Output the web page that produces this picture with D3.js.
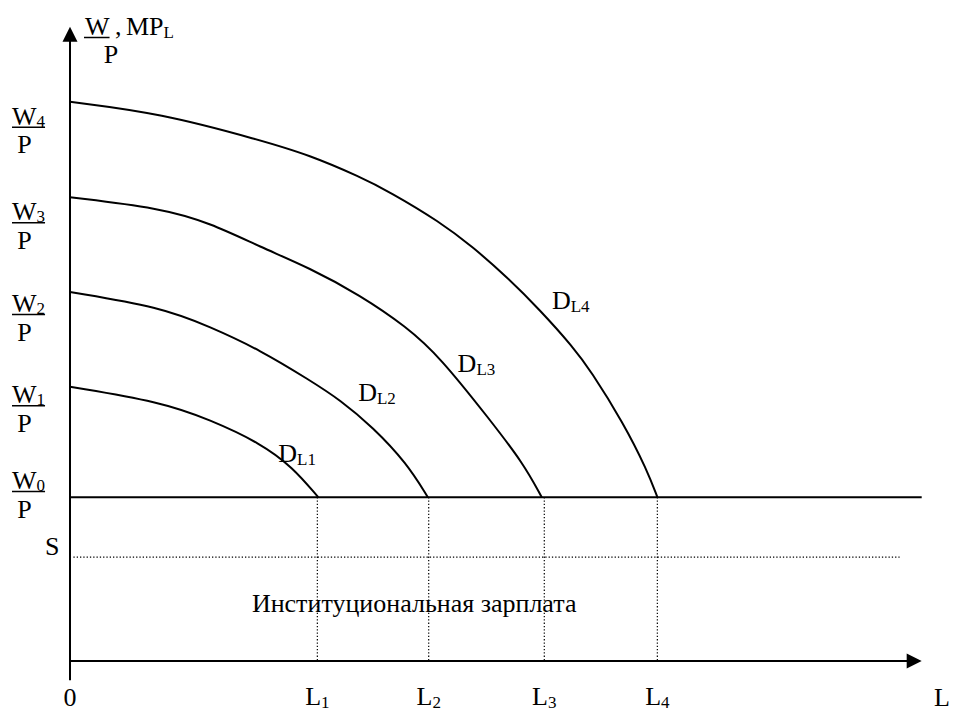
<!DOCTYPE html>
<html><head><meta charset="utf-8">
<script src="https://cdn.jsdelivr.net/npm/d3@7"></script>
<style>
body{margin:0;background:#fff}
text{font-family:"Liberation Serif","Times New Roman",serif;fill:#000}
</style>
</head><body>
<svg id="c" width="954" height="711"></svg>
<script>
// ---- data (abstract units: L on x, W/P on y) ----
const curveNames = ["L1", "L2", "L3", "L4"];
const dL1 = [[0,45.7],[10.6,43.2],[16.5,40.2],[22.4,36.3],[26.2,32.3],[29.2,27.3]];
const dL2 = [[0,61.5],[10.6,59.0],[16.5,55.7],[22.4,51.8],[28.2,46.8],[31.8,43.5],[35.6,39.0],[39.6,33.0],[42.1,27.3]];
const dL3 = [[0,77.3],[10.6,75.5],[16.5,73.0],[22.4,69.0],[28.2,65.5],[34.1,61.0],[39.6,55.7],[43.5,50.7],[49.4,40.2],[53.3,33.0],[55.5,27.3]];
const dL4 = [[0,93.2],[10.6,91.3],[22.4,86.8],[28.2,84.3],[34.1,80.7],[37.6,78.2],[43.5,73.2],[47.4,69.0],[51.4,64.0],[55.3,58.5],[59.2,52.3],[61.2,48.5],[65.1,39.7],[67.9,31.8],[69.1,27.3]];
const curves = [dL1, dL2, dL3, dL4];
const w0Level = 27.3;          // W0/P institutional wage
const sLevel = 17.3;           // S
const lTicks = [29.1, 42.2, 55.8, 69.1];   // L1..L4
const lTickLabels = ["1", "2", "3", "4"];
const wTickSubs = ["0", "1", "2", "3", "4"];
const wTickPos = [28.0, 42.3, 57.5, 72.8, 88.7];   // centres of W_i/P labels
const curveLabelPos = [[24.5,33.2],[33.9,43.3],[45.6,48.2],[56.7,58.7]];
const noteText = "Институциональная зарплата";
const notePos = [21.4, 8.2];

// ---- scales ----
const svg = d3.select("#c");
const x = d3.scaleLinear().domain([0, 100]).range([70, 920]);
const y = d3.scaleLinear().domain([0, 100]).range([661, 61]);
const FS = 26, SFS = 17;

// axes
svg.append("line").attr("x1", x(0)).attr("x2", x(100.2) - 14).attr("y1", y(0)).attr("y2", y(0))
  .attr("stroke", "#000").attr("stroke-width", 2);
svg.append("path").attr("d", `M${x(100.2)},${y(0)} L${x(100.2)-15},${y(0)-7.5} L${x(100.2)-15},${y(0)+7.5} Z`).attr("fill", "#000");
svg.append("line").attr("x1", x(0)).attr("x2", x(0)).attr("y1", y(-3.2)).attr("y2", y(105.7) + 14)
  .attr("stroke", "#000").attr("stroke-width", 2);
svg.append("path").attr("d", `M${x(0)},${y(105.7)} L${x(0)-7.5},${y(105.7)+15} L${x(0)+7.5},${y(105.7)+15} Z`).attr("fill", "#000");

// W0 line
svg.append("line").attr("x1", x(0)).attr("x2", x(100.2)).attr("y1", y(w0Level)).attr("y2", y(w0Level))
  .attr("stroke", "#000").attr("stroke-width", 2);
// S dotted
svg.append("line").attr("x1", x(0.4)).attr("x2", x(97.6)).attr("y1", y(sLevel)).attr("y2", y(sLevel))
  .attr("stroke", "#000").attr("stroke-width", 1.2).attr("stroke-dasharray", "1.3,2");
// vertical dotted lines
lTicks.forEach(v => {
  svg.append("line").attr("x1", x(v)).attr("x2", x(v)).attr("y1", y(w0Level)).attr("y2", y(0))
    .attr("stroke", "#000").attr("stroke-width", 1.2).attr("stroke-dasharray", "1.3,2");
});

// curves
const line = d3.line().x(d => x(d[0])).y(d => y(d[1])).curve(d3.curveBasis);
curves.forEach(c => {
  svg.append("path").attr("d", line(c)).attr("fill", "none").attr("stroke", "#000").attr("stroke-width", 2);
});

// curve labels
curveNames.forEach((n, i) => {
  const t = svg.append("text").attr("x", x(curveLabelPos[i][0])).attr("y", y(curveLabelPos[i][1])).attr("font-size", FS);
  t.append("tspan").text("D");
  t.append("tspan").attr("font-size", SFS).attr("dy", 3).text(n);
});

// x tick labels
svg.append("text").attr("x", x(0)).attr("y", 706).attr("text-anchor", "middle").attr("font-size", FS).text("0");
lTicks.forEach((v, i) => {
  const t = svg.append("text").attr("x", x(v)).attr("y", 705).attr("text-anchor", "middle").attr("font-size", FS);
  t.append("tspan").text("L");
  t.append("tspan").attr("font-size", SFS).attr("dy", 3).text(lTickLabels[i]);
});
svg.append("text").attr("x", 934).attr("y", 706).attr("font-size", FS).text("L");

// y tick labels W_i / P
wTickPos.forEach((v, i) => {
  const cy = y(v);
  const t = svg.append("text").attr("x", 12).attr("y", cy - 4).attr("font-size", FS);
  t.append("tspan").text("W");
  t.append("tspan").attr("font-size", SFS).attr("dy", 2).text(wTickSubs[i]);
  const w = t.node().getComputedTextLength();
  svg.append("line").attr("x1", 12).attr("x2", 12 + w).attr("y1", cy - 1.5).attr("y2", cy - 1.5)
    .attr("stroke", "#000").attr("stroke-width", 1.5);
  svg.append("text").attr("x", 24.5).attr("y", cy + 24.5).attr("text-anchor", "middle").attr("font-size", FS).text("P");
});

// S label
svg.append("text").attr("x", 45).attr("y", y(sLevel) - 2).attr("font-size", FS).text("S");

// top axis label
const tw = svg.append("text").attr("x", 85).attr("y", 35).attr("font-size", FS).text("W");
const twl = tw.node().getComputedTextLength();
svg.append("line").attr("x1", 84).attr("x2", 85 + twl).attr("y1", 37.5).attr("y2", 37.5).attr("stroke", "#000").attr("stroke-width", 1.5);
const mp = svg.append("text").attr("x", 115).attr("y", 35).attr("font-size", FS);
mp.append("tspan").text(",");
mp.append("tspan").attr("x", 126).text("MP");
mp.append("tspan").attr("font-size", SFS).attr("dy", 3).text("L");
svg.append("text").attr("x", 111).attr("y", 63).attr("text-anchor", "middle").attr("font-size", FS).text("P");

// note
svg.append("text").attr("x", x(notePos[0])).attr("y", y(notePos[1])).attr("font-size", FS).text(noteText);
</script>
</body></html>
